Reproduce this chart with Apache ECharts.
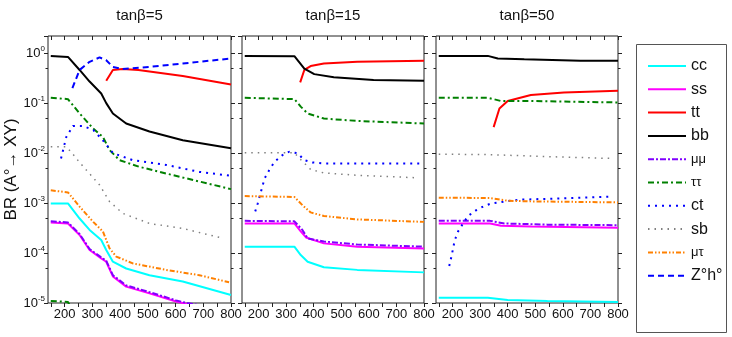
<!DOCTYPE html>
<html>
<head>
<meta charset="utf-8">
<script src="https://cdn.jsdelivr.net/npm/echarts@6/dist/echarts.min.js"></script>
<style>
  html, body { margin: 0; padding: 0; background: #fff; }
  #chart { width: 732px; height: 337px; }
</style>
</head>
<body>
<div id="chart"></div>
<script>
// channel names, legend order
const names = ['cc', 'ss', 'tt', 'bb', 'μμ', 'ττ', 'ct', 'sb', 'μτ', 'Z°h°'];
const panelTitles = ['tanβ=5', 'tanβ=15', 'tanβ=50'];
const xTicks = [150, 200, 250, 300, 350, 400, 450, 500, 550, 600, 650, 700, 750, 800];
const xLabels = [200, 300, 400, 500, 600, 700, 800];

// tanβ = 5   [m_A, BR]
const cc5 = [[150, 9.8e-4], [212, 9.8e-4], [254, 4.9e-4], [290, 2.9e-4], [332, 1.82e-4], [350, 1.15e-4], [374, 6.7e-5], [422, 4.9e-5], [506, 3.6e-5], [626, 2.7e-5], [800, 1.45e-5]];
const ss5 = [[150, 4.1e-4], [212, 3.9e-4], [254, 2.3e-4], [290, 1.15e-4], [332, 7.8e-5], [350, 6.7e-5], [374, 3.4e-5], [422, 2.13e-5], [506, 1.56e-5], [602, 1.07e-5], [625, 1.0e-5], [700, 8.0e-6]];
const tt5 = [[350, 0.28], [374, 0.46], [409, 0.48], [466, 0.46], [626, 0.35], [800, 0.235]];
const bb5 = [[150, 0.88], [212, 0.84], [254, 0.46], [290, 0.27], [332, 0.156], [350, 0.1], [374, 0.062], [422, 0.039], [506, 0.027], [626, 0.018], [800, 0.0125]];
const mumu5 = [[150, 4.3e-4], [212, 4.1e-4], [254, 2.4e-4], [290, 1.2e-4], [332, 8.2e-5], [350, 7.0e-5], [374, 3.6e-5], [422, 2.25e-5], [506, 1.65e-5], [602, 1.13e-5], [640, 1.0e-5], [700, 8.8e-6]];
const tautau5 = [[150, 0.128], [212, 0.12], [254, 0.062], [303, 0.031], [338, 0.021], [362, 0.0115], [398, 0.0072], [470, 0.0053], [566, 0.0039], [800, 0.0019]];
const tautauLow5 = [[150, 1.1e-5], [212, 1.05e-5], [240, 5e-6]];
const ct5 = [[187, 0.0078], [206, 0.021], [230, 0.035], [266, 0.035], [303, 0.029], [338, 0.018], [374, 0.01], [446, 0.0072], [566, 0.0058], [686, 0.0042], [800, 0.0035]];
const sb5 = [[150, 0.0134], [206, 0.0134], [230, 0.0095], [254, 0.0065], [278, 0.0046], [326, 0.0023], [362, 0.00107], [410, 0.00062], [506, 0.00039], [626, 0.00031], [775, 0.000195]];
const mutau5 = [[150, 0.0018], [212, 0.00163], [254, 0.00085], [303, 0.00042], [338, 0.00027], [362, 0.000124], [386, 0.000085], [446, 0.000062], [566, 0.000046], [686, 0.000036], [793, 0.000026]];
const zh5 = [[228, 0.2], [254, 0.46], [290, 0.67], [326, 0.82], [350, 0.72], [374, 0.53], [409, 0.48], [506, 0.53], [626, 0.62], [800, 0.78]];

// tanβ = 15
const cc15 = [[150, 1.34e-4], [330, 1.34e-4], [353, 9.1e-5], [378, 6.7e-5], [437, 5.2e-5], [558, 4.6e-5], [800, 4.1e-5]];
const ss15 = [[150, 3.9e-4], [330, 3.9e-4], [353, 2.7e-4], [372, 2.05e-4], [437, 1.56e-4], [558, 1.34e-4], [800, 1.23e-4]];
const tt15 = [[351, 0.26], [366, 0.46], [389, 0.55], [437, 0.62], [558, 0.67], [800, 0.7]];
const bb15 = [[150, 0.88], [330, 0.87], [366, 0.49], [402, 0.38], [473, 0.33], [617, 0.29], [800, 0.28]];
const mumu15 = [[150, 4.4e-4], [330, 4.3e-4], [359, 2.9e-4], [378, 1.96e-4], [437, 1.7e-4], [558, 1.48e-4], [800, 1.34e-4]];
const tautau15 = [[150, 0.128], [330, 0.12], [353, 0.085], [378, 0.062], [437, 0.049], [558, 0.044], [800, 0.039]];
const ct15 = [[188, 6.8e-4], [197, 9.8e-4], [207, 0.00156], [222, 0.0031], [239, 0.0046], [258, 0.0067], [287, 0.0091], [311, 0.0106], [342, 0.0099], [366, 0.0072], [395, 0.0065], [441, 0.0062], [800, 0.0062]];
const sb15 = [[150, 0.0102], [330, 0.0102], [342, 0.0085], [389, 0.0047], [437, 0.004], [558, 0.0036], [775, 0.0032]];
const mutau15 = [[150, 0.00138], [330, 0.00132], [359, 0.00091], [389, 0.00065], [437, 0.00055], [558, 0.00047], [800, 0.00042]];

// tanβ = 50
const cc50 = [[150, 1.28e-5], [328, 1.28e-5], [400, 1.15e-5], [544, 1.1e-5], [800, 1.05e-5]];
const ss50 = [[150, 3.9e-4], [336, 3.9e-4], [376, 3.5e-4], [484, 3.4e-4], [800, 3.2e-4]];
const tt50 = [[349, 0.033], [370, 0.078], [400, 0.11], [484, 0.145], [604, 0.163], [800, 0.177]];
const bb50 = [[150, 0.88], [328, 0.88], [364, 0.78], [460, 0.75], [664, 0.7], [800, 0.7]];
const mumu50 = [[150, 4.4e-4], [336, 4.4e-4], [388, 3.9e-4], [544, 3.7e-4], [800, 3.6e-4]];
const tautau50 = [[150, 0.128], [328, 0.128], [376, 0.11], [484, 0.11], [800, 0.103]];
const ct50 = [[188, 5.5e-5], [196, 8.5e-5], [208, 1.8e-4], [220, 2.7e-4], [238, 3.9e-4], [256, 5.5e-4], [286, 7.2e-4], [314, 8.7e-4], [340, 9.8e-4], [394, 0.00108], [448, 0.00117], [556, 0.00122], [780, 0.00135]];
const sb50 = [[150, 0.0095], [336, 0.0093], [544, 0.0085], [780, 0.0078]];
const mutau50 = [[150, 0.00128], [336, 0.00126], [400, 0.00111], [484, 0.00108], [800, 0.00103]];

const panels = [
  [cc5, ss5, tt5, bb5, mumu5, tautau5, ct5, sb5, mutau5, zh5],
  [cc15, ss15, tt15, bb15, mumu15, tautau15, ct15, sb15, mutau15, null],
  [cc50, ss50, tt50, bb50, mumu50, tautau50, ct50, sb50, mutau50, null],
];

const colors = ['#00ffff', '#ff00ff', '#ff0000', '#000000', '#8000ff', '#008000', '#0000ff', '#808080', '#ff8000', '#0000ff'];
const dashes = ['solid', 'solid', 'solid', 'solid', [6, 2, 2, 2], [6, 3, 2, 3], [2, 5], [1.5, 5], [5, 2, 1.5, 2, 1.5, 2], [6, 4]];
const widths = [2, 2, 2, 2, 2, 2, 2, 1.5, 2, 2];

const gridLefts = [48, 242, 436];
const gridWidths = [183, 182, 182];

function expLabel(v) {
  const l = Math.log10(v);
  const e = Math.round(l);
  if (Math.abs(l - e) > 0.01) return '';
  return '10{e|' + e + '}';
}

const chart = echarts.init(document.getElementById('chart'), null, {renderer: 'canvas'});

const grid = [];
const xAxis = [];
const yAxis = [];
const series = [];
const graphic = [];

gridLefts.forEach((left, g) => {
  grid.push({
    left: left, top: 36, width: gridWidths[g], height: 267,
    show: true, borderColor: '#222', borderWidth: 1, backgroundColor: 'transparent',
  });
  const tickStyle = {color: '#222', width: 1};
  xAxis.push({
    gridIndex: g, type: 'value', min: 140, max: 800, position: 'bottom',
    axisLine: {show: false}, splitLine: {show: false},
    axisTick: {customValues: xTicks, length: 4, lineStyle: tickStyle},
    axisLabel: {customValues: xLabels, fontSize: 13, color: '#111', margin: 5, fontFamily: 'Liberation Sans'},
  });
  xAxis.push({
    gridIndex: g, type: 'value', min: 140, max: 800, position: 'top',
    axisLine: {show: false}, splitLine: {show: false},
    axisTick: {customValues: xTicks, inside: true, length: 4, lineStyle: tickStyle},
    axisLabel: {show: false},
  });
  ['left', 'right'].forEach(pos => {
    yAxis.push({
      gridIndex: g, type: 'log', logBase: 10, min: 1e-5, max: 2.2, position: pos,
      axisLine: {show: false}, splitLine: {show: false}, minorTick: {show: false},
      axisTick: {length: 4, lineStyle: tickStyle},
      axisLabel: {
        show: g === 0 && pos === 'left',
        formatter: expLabel, color: '#111', fontSize: 13, margin: 3, fontFamily: 'Liberation Sans',
        rich: {e: {fontSize: 8, verticalAlign: 'bottom', padding: [0, 0, 8, 0], color: '#111'}},
      },
      name: g === 0 && pos === 'left' ? 'BR (A°→ XY)' : '',
      nameLocation: 'middle', nameGap: 19,
      nameTextStyle: {fontSize: 17, color: '#111', fontFamily: 'Liberation Sans'},
    });
  });
  // minor ticks at 5×10^n
  ['left', 'right'].forEach(pos => {
    yAxis.push({
      gridIndex: g, type: 'log', logBase: 10, min: 2e-5, max: 4.4, position: pos,
      axisLine: {show: false}, splitLine: {show: false},
      axisTick: {length: 2.5, lineStyle: tickStyle},
      axisLabel: {show: false},
    });
  });

  panels[g].forEach((data, i) => {
    if (!data) return;
    series.push({
      type: 'line', name: names[i], data: data,
      xAxisIndex: g * 2, yAxisIndex: g * 4,
      symbol: 'none', showSymbol: false, animation: false,
      lineStyle: {color: colors[i], width: widths[i], type: dashes[i]},
      itemStyle: {color: colors[i]},
    });
  });

  graphic.push({
    type: 'text', x: left + gridWidths[g] / 2, y: 16,
    style: {text: panelTitles[g], fill: '#111', font: '15px "Liberation Sans"', textAlign: 'center', textVerticalAlign: 'middle'},
  });
});

// extra green branch near the floor of panel 1
series.push({
  type: 'line', data: tautauLow5, xAxisIndex: 0, yAxisIndex: 0,
  symbol: 'none', showSymbol: false, animation: false,
  lineStyle: {color: colors[5], width: 2, type: dashes[5]},
});

// legend box
graphic.push({
  type: 'rect', left: 634, top: 42,
  shape: {width: 90, height: 288},
  style: {fill: 'none', stroke: '#555', lineWidth: 1},
});

chart.setOption({
  animation: false,
  grid: grid,
  xAxis: xAxis,
  yAxis: yAxis,
  series: series,
  graphic: graphic,
  legend: {
    data: names,
    orient: 'vertical',
    left: 642, top: 53, padding: 5,
    itemWidth: 38, itemHeight: 14, itemGap: 7.3,
    itemStyle: {color: 'transparent', borderWidth: 0, opacity: 0},
    textStyle: {
      fontSize: 16, color: '#111', fontFamily: 'Liberation Sans', lineHeight: 16,
      rich: {g: {fontSize: 13, color: '#111', fontFamily: 'Liberation Sans'}},
    },
    formatter: name => /[μτ]/.test(name) ? '{g|' + name + '}' : name,
    selectedMode: false,
  },
});
</script>
</body>
</html>
